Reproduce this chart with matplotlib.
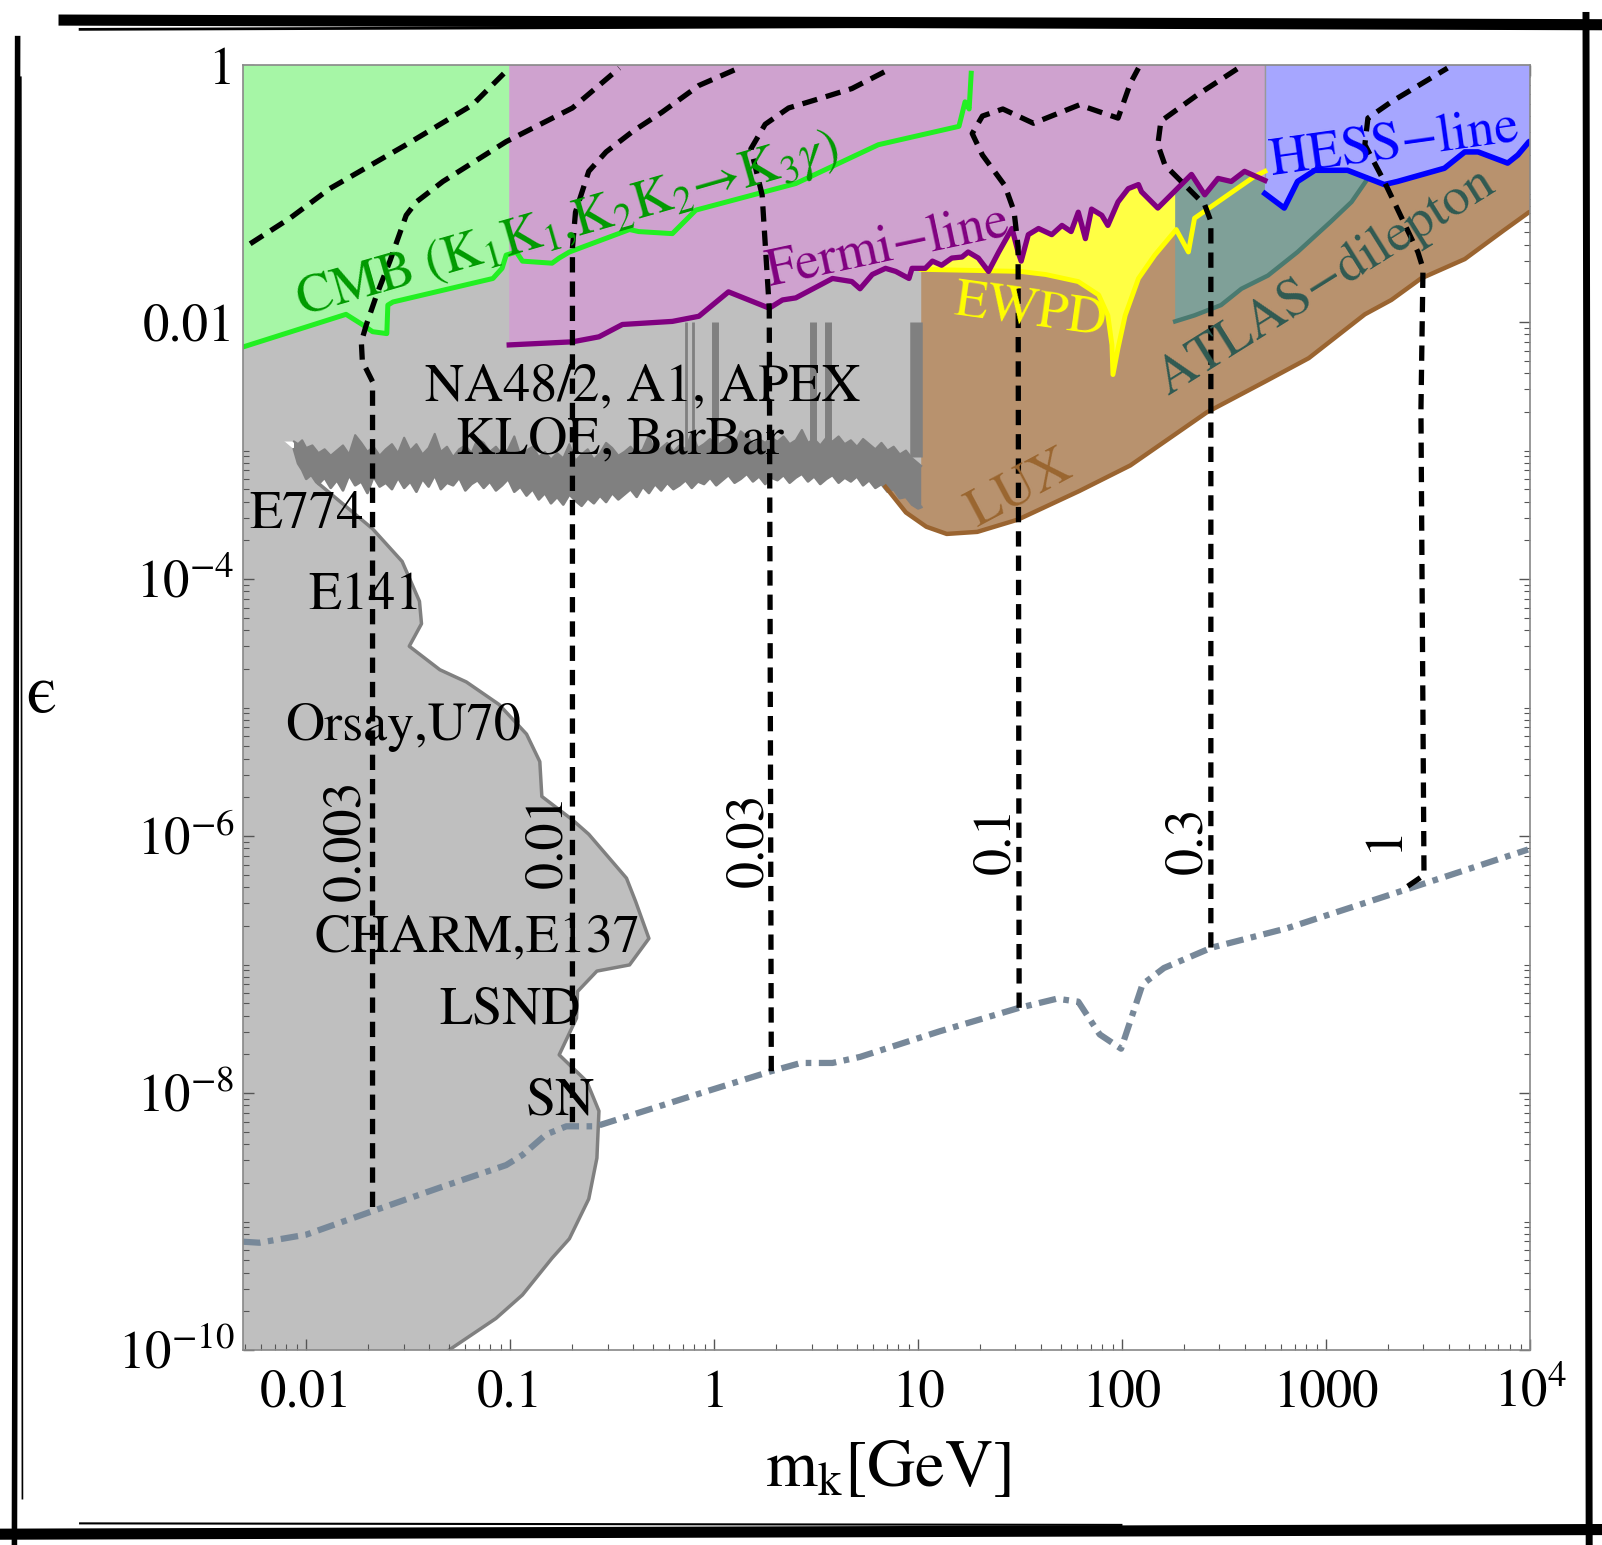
import numpy as np
import matplotlib
matplotlib.use('Agg')
import matplotlib.pyplot as plt
from matplotlib.lines import Line2D
from matplotlib.ticker import LogLocator, NullFormatter

plt.rcParams['font.family'] = ['STIXGeneral', 'DejaVu Serif']
plt.rcParams['mathtext.fontset'] = 'stix'

# all curves as log10(m_k / GeV) and log10(epsilon)

# beam dump region (E774, E141, Orsay, U70, CHARM, E137, LSND, SN)
dump_lm = [-2.05, -1.95, -1.675, -1.53, -1.445, -1.435, -1.495, -1.345, -1.215, -1.055,
           -0.92, -0.855, -0.845, -0.695, -0.615, -0.43, -0.385, -0.32, -0.415, -0.575,
           -0.67, -0.675, -0.76, -0.625, -0.565, -0.575, -0.615, -0.71, -0.795, -0.94,
           -1.07, -1.285, -1.30]
dump_le = [-3.005, -3.243, -3.609, -3.863, -4.173, -4.348, -4.523, -4.706, -4.801, -4.976,
           -5.207, -5.421, -5.692, -5.874, -5.986, -6.328, -6.510, -6.797, -7.003, -7.051,
           -7.210, -7.417, -7.703, -7.909, -8.140, -8.506, -8.824, -9.134, -9.285, -9.571,
           -9.754, -9.984, -10.0]

# ragged lower band of the NA48/2, A1, APEX, KLOE, BaBar region (top and bottom edge)
na48_lm = [-2.06, -2.04, -2.02, -2.00, -1.97, -1.94, -1.91, -1.88,
           -1.85, -1.82, -1.79, -1.76, -1.73, -1.70, -1.67, -1.64, -1.61, -1.58, -1.55, -1.52,
           -1.49, -1.46, -1.43, -1.40, -1.37, -1.34, -1.31, -1.28, -1.25, -1.22, -1.19, -1.16,
           -1.13, -1.10, -1.07, -1.04, -1.01, -0.98, -0.95, -0.92, -0.89, -0.86, -0.83, -0.80,
           -0.77, -0.74, -0.71, -0.68, -0.65, -0.62, -0.59, -0.56, -0.53, -0.50, -0.47, -0.44,
           -0.41, -0.38, -0.35, -0.32, -0.29, -0.26, -0.23, -0.20, -0.17, -0.14, -0.11, -0.08,
           -0.05, -0.02, 0.01, 0.04, 0.07, 0.10, 0.13, 0.16, 0.19, 0.22, 0.25, 0.28,
           0.31, 0.34, 0.37, 0.40, 0.43, 0.46, 0.49, 0.52, 0.55, 0.58, 0.61, 0.64,
           0.67, 0.70, 0.73, 0.76, 0.79, 0.82, 0.85, 0.88, 0.91, 0.94, 0.97, 1.00, 1.015]
na48_top = [-2.93, -2.95, -2.92, -2.98, -2.96, -3.02, -2.99, -3.04,
            -3.00, -2.96, -3.03, -2.88, -2.94, -3.01, -2.97, -3.04, -2.99, -2.95, -3.02, -2.90,
            -3.00, -2.95, -3.03, -2.98, -2.87, -3.01, -2.97, -3.05, -2.99, -2.96, -3.02, -2.91,
            -2.94, -3.01, -2.97, -3.03, -2.99, -2.89, -3.04, -3.00, -2.97, -3.05, -3.01, -3.07,
            -3.02, -3.06, -2.95, -3.08, -3.03, -2.99, -3.07, -3.02, -2.94, -2.98, -3.04, -3.01,
            -2.97, -3.03, -2.99, -2.88, -3.02, -2.98, -2.94, -3.01, -2.96, -2.99, -2.86, -2.98,
            -2.95, -2.91, -2.97, -2.93, -2.90, -2.96, -2.85, -2.89, -2.95, -2.91, -2.94, -2.90,
            -2.93, -2.89, -2.95, -2.92, -2.84, -2.94, -2.91, -2.96, -2.90, -2.93, -2.89, -2.95,
            -2.92, -2.97, -2.91, -2.95, -2.99, -2.94, -3.00, -2.97, -3.03, -3.00, -3.06, -3.10, -3.12]
na48_bot = [-2.99, -3.10, -3.15, -3.22, -3.18, -3.26, -3.21, -3.29,
            -3.23, -3.31, -3.19, -3.27, -3.24, -3.33, -3.20, -3.28, -3.25, -3.30, -3.21, -3.29,
            -3.24, -3.32, -3.22, -3.28, -3.19, -3.30, -3.25, -3.27, -3.21, -3.31, -3.26, -3.23,
            -3.29, -3.24, -3.31, -3.27, -3.22, -3.32, -3.28, -3.35, -3.30, -3.38, -3.33, -3.41,
            -3.36, -3.42, -3.34, -3.39, -3.43, -3.37, -3.41, -3.35, -3.40, -3.33, -3.38, -3.34,
            -3.30, -3.36, -3.28, -3.33, -3.26, -3.31, -3.25, -3.30, -3.27, -3.23, -3.29, -3.24,
            -3.26, -3.21, -3.27, -3.23, -3.19, -3.25, -3.22, -3.18, -3.24, -3.20, -3.26, -3.21,
            -3.23, -3.19, -3.25, -3.21, -3.18, -3.24, -3.20, -3.26, -3.22, -3.19, -3.25, -3.21,
            -3.24, -3.20, -3.27, -3.23, -3.29, -3.26, -3.32, -3.30, -3.37, -3.36, -3.42, -3.45, -3.44]
# resonance spikes (rho/omega, phi, J/psi, psi', Upsilon)
spike_lm = [-0.14, -0.105, 0.005, 0.485, 0.56, 0.99]
spike_lw = [2.0, 2.0, 5.0, 5.0, 5.0, 9.0]

# CMB bound
cmb_lm = [-2.31, -1.805, -1.725, -1.675, -1.605, -1.60, -1.575, -1.085, -1.04, -1.02,
          -0.97, -0.94, -0.795, -0.76, -0.71, -0.415, -0.37, -0.205, -0.09, 0.40,
          0.805, 1.20, 1.23, 1.25, 1.26]
cmb_le = [-2.194, -1.94, -2.02, -2.075, -2.09, -1.868, -1.844, -1.661, -1.582, -1.479,
          -1.455, -1.526, -1.542, -1.502, -1.455, -1.28, -1.296, -1.312, -1.129, -0.922,
          -0.62, -0.477, -0.286, -0.342, -0.064]

# Fermi line search
fermi_lm = [-1.005, -0.695, -0.565, -0.45, -0.205, -0.075, 0.07, 0.27, 0.335, 0.40,
            0.58, 0.675, 0.715, 0.775, 0.84, 0.89, 0.955, 0.97, 1.035, 1.07,
            1.115, 1.165, 1.215, 1.245, 1.295, 1.345, 1.395, 1.46, 1.49, 1.505,
            1.54, 1.59, 1.655, 1.705, 1.75, 1.785, 1.82, 1.85, 1.90, 1.93,
            1.98, 2.03, 2.08, 2.095, 2.175, 2.24, 2.34, 2.405, 2.47, 2.535, 2.60, 2.70]
fermi_le = [-2.178, -2.154, -2.115, -2.019, -1.995, -1.955, -1.765, -1.892, -1.828, -1.812,
            -1.661, -1.685, -1.741, -1.63, -1.582, -1.606, -1.661, -1.582, -1.582, -1.526,
            -1.558, -1.502, -1.494, -1.455, -1.502, -1.606, -1.455, -1.272, -1.455, -1.526,
            -1.32, -1.272, -1.32, -1.248, -1.296, -1.145, -1.351, -1.121, -1.169, -1.248,
            -1.065, -0.962, -0.93, -0.986, -1.113, -1.01, -0.851, -1.01, -0.882, -0.906, -0.827, -0.898]

# electroweak precision data
ewpd_lm = [1.015, 1.50, 1.625, 1.785, 1.885, 1.93, 1.95, 1.955, 1.98, 2.015,
           2.08, 2.16, 2.265, 2.325, 2.355, 2.65, 2.70]
ewpd_le = [-1.59, -1.606, -1.63, -1.685, -1.789, -1.948, -2.178, -2.409, -2.202, -1.948,
           -1.661, -1.479, -1.28, -1.455, -1.192, -0.866, -0.827]

# ATLAS dilepton
atlas_lm = [2.26, 2.355, 2.485, 2.585, 2.715, 2.86, 3.025, 3.125, 3.205]
atlas_le = [-1.995, -1.948, -1.868, -1.741, -1.638, -1.455, -1.216, -1.065, -0.882]

# HESS line search
hess_lm = [2.70, 2.795, 2.86, 2.945, 3.105, 3.285, 3.35, 3.58, 3.68, 3.745, 3.89, 3.94, 3.995]
hess_le = [-1.00, -1.113, -0.906, -0.819, -0.819, -0.930, -0.906, -0.803, -0.676, -0.676,
           -0.763, -0.70, -0.596]

# LUX direct detection
lux_lm = [0.84, 0.94, 1.04, 1.14, 1.29, 1.49, 1.79, 2.04, 2.415, 2.70,
          2.915, 3.19, 3.32, 3.465, 3.68, 3.87, 3.995]
lux_le = [-3.283, -3.482, -3.593, -3.649, -3.633, -3.537, -3.315, -3.116, -2.703, -2.464,
          -2.281, -1.94, -1.828, -1.661, -1.51, -1.288, -1.145]

# grey dot-dashed curve
dd_lm = [-2.31, -2.23, -2.0, -1.675, -1.345, -1.02, -0.94, -0.825, -0.725, -0.58,
         -0.09, 0.28, 0.425, 0.58, 0.715, 1.105, 1.495, 1.68, 1.785, 1.89,
         1.995, 2.05, 2.10, 2.205, 2.44, 2.81, 3.41, 3.99]
dd_le = [-9.157, -9.165, -9.102, -8.919, -8.736, -8.561, -8.482, -8.323, -8.259, -8.259,
         -8.013, -7.830, -7.766, -7.766, -7.719, -7.520, -7.337, -7.266, -7.289, -7.544,
         -7.655, -7.393, -7.154, -7.027, -6.868, -6.717, -6.407, -6.105]

# dashed contours
contours = {
    '': ([-2.275, -2.08, -1.885, -1.51, -1.185, -1.005],
         [-1.391, -1.192, -0.962, -0.62, -0.31, -0.024]),
    '0.003': ([-1.675, -1.675, -1.725, -1.73, -1.705, -1.655, -1.59, -1.51, -1.46, -1.33, -1.02, -0.695, -0.465],
              [-8.887, -2.464, -2.305, -2.154, -2.019, -1.789, -1.526, -1.169, -1.065, -0.906, -0.596, -0.334, -0.024]),
    '0.01': ([-0.695, -0.695, -0.68, -0.615, -0.53, -0.40, -0.255, -0.075, 0.12],
             [-8.227, -1.423, -1.145, -0.827, -0.676, -0.517, -0.366, -0.159, -0.024]),
    '0.03': ([0.28, 0.27, 0.235, 0.18, 0.25, 0.365, 0.515, 0.675, 0.87],
             [-7.83, -1.892, -1.01, -0.652, -0.461, -0.334, -0.262, -0.183, -0.024]),
    '0.1': ([1.495, 1.49, 1.47, 1.425, 1.315, 1.265, 1.315, 1.415, 1.565, 1.79, 1.98, 2.04, 2.08],
            [-7.337, -1.415, -1.137, -0.938, -0.70, -0.533, -0.397, -0.342, -0.453, -0.31, -0.413, -0.143, -0.024]),
    '0.3': ([2.435, 2.435, 2.405, 2.29, 2.21, 2.175, 2.19, 2.37, 2.57],
            [-6.868, -1.216, -1.089, -0.906, -0.779, -0.62, -0.437, -0.231, -0.024]),
    '1': ([3.40, 3.48, 3.465, 3.475, 3.45, 3.35, 3.285, 3.19, 3.205, 3.32, 3.595],
          [-6.391, -6.304, -2.687, -1.582, -1.455, -1.121, -0.906, -0.62, -0.413, -0.286, -0.024]),
}
contour_label_pos = {'0.003': (-1.80, -6.03), '0.01': (-0.81, -6.04), '0.03': (0.175, -6.03),
                     '0.1': (1.385, -6.03), '0.3': (2.325, -6.03), '1': (3.285, -6.01)}

# region labels: text, log10 m, log10 eps, rotation, colour
region_labels = [
    ('CMB (K$_1$K$_1$,K$_2$K$_2$\u2192K$_3\\gamma$)', -0.72, -1.25, 16, '#009a00'),
    ('Fermi\u2212line', 0.85, -1.42, 12, '#800080'),
    ('HESS\u2212line', 3.335, -0.62, 8, '#0000ff'),
    ('EWPD', 1.55, -1.93, -8, '#ffff00'),
    ('ATLAS\u2212dilepton', 3.0, -1.69, 32, '#2f5a52'),
    ('LUX', 1.5, -3.31, 28, '#9a6630'),
    ('NA48/2, A1, APEX', -0.35, -2.51, 0, 'black'),
    ('KLOE, BarBar', -0.46, -2.925, 0, 'black'),
    ('E774', -2.0, -3.506, 0, 'black'),
    ('E141', -1.71, -4.134, 0, 'black'),
    ('Orsay,U70', -1.525, -5.151, 0, 'black'),
    ('CHARM,E137', -1.16, -6.797, 0, 'black'),
    ('LSND', -1.0, -7.361, 0, 'black'),
    ('SN', -0.755, -8.068, 0, 'black'),
]


def lin(v):
    return 10.0 ** np.asarray(v, dtype=float)


TOP = 0.05
RIGHT = 4.05

fig = plt.figure(figsize=(16.02, 15.45), dpi=100)
ax = fig.add_axes([0.1517, 0.1262, 0.8034, 0.8317])

# beam dump
bx = [-2.35] + dump_lm + [-2.35]
by = [-2.6] + dump_le[:-1] + [-10.1, -10.1]
ax.fill(lin(bx), lin(by), color='#bfbfbf', lw=0, zorder=1)
ax.plot(lin(dump_lm), lin(dump_le), color='#808080', lw=2.5, zorder=1.5)

# LUX
ax.fill(lin(lux_lm + [RIGHT, RIGHT, lux_lm[0]]), lin(lux_le + [lux_le[-1], TOP, TOP]),
        color='#b8926e', lw=0, zorder=2)

# dark photon searches (NA48/2, ...)
gx = [-2.35, -2.35] + na48_lm + [na48_lm[-1]]
gy = [TOP, na48_top[0]] + na48_top + [TOP]
ax.fill(lin(gx), lin(gy), color='#bfbfbf', lw=0, zorder=3)
ax.fill(lin(na48_lm + na48_lm[::-1]), lin(na48_top + na48_bot[::-1]), color='#808080',
        lw=0, zorder=3.4)
ax.plot(lin(na48_lm), lin(na48_top), color='#808080', lw=1.5, zorder=3.5)
ax.plot(lin(na48_lm), lin(na48_bot), color='#808080', lw=2, zorder=3.5)
for m, w in zip(spike_lm, spike_lw):
    ax.plot([10 ** m, 10 ** m], [10 ** -3.05, 10 ** -2.0], color='#808080', lw=w,
            solid_capstyle='butt', zorder=3.5)

# CMB
ax.fill(lin([-2.35] + cmb_lm + [cmb_lm[-1], -2.35]), lin([cmb_le[0]] + cmb_le + [TOP, TOP]),
        color='#a6f6a6', lw=0, zorder=4)
# EWPD
ax.fill(lin(ewpd_lm + [ewpd_lm[-1], ewpd_lm[0]]), lin(ewpd_le + [TOP, TOP]),
        color='#ffff44', lw=0, zorder=5)
# ATLAS
ax.fill(lin(atlas_lm + [atlas_lm[-1], atlas_lm[0]]), lin(atlas_le + [TOP, TOP]),
        color='#7fa098', lw=0, zorder=6)
# Fermi
ax.fill(lin(fermi_lm + [fermi_lm[-1], fermi_lm[0]]), lin(fermi_le + [TOP, TOP]),
        color='#cfa2cf', lw=0, zorder=7)
# HESS
ax.fill(lin(hess_lm + [RIGHT, RIGHT, hess_lm[0]]), lin(hess_le + [hess_le[-1], TOP, TOP]),
        color='#a6a6ff', lw=0, zorder=8)
# thin seam between the Fermi and HESS patches
ax.plot([10 ** hess_lm[0]] * 2, [10 ** fermi_le[-1], 1.0], color='#999999', lw=1, zorder=8.5)

ax.plot(lin(lux_lm + [RIGHT]), lin(lux_le + [lux_le[-1] + 0.02]), color='#9a6430', lw=3.2, zorder=9)
ax.plot(lin(atlas_lm), lin(atlas_le), color='#4a7a70', lw=3.2, zorder=9)
ax.plot(lin(ewpd_lm), lin(ewpd_le), color='#ffff00', lw=3.5, zorder=9)
ax.plot(lin(fermi_lm), lin(fermi_le), color='#800080', lw=3.8, zorder=9.2)
ax.plot(lin(hess_lm + [RIGHT]), lin(hess_le + [hess_le[-1] + 0.03]), color='#0000ff', lw=4, zorder=9.2)
ax.plot(lin(cmb_lm), lin(cmb_le), color='#22f022', lw=3.6, zorder=9.4)

# grey dot-dashed curve
ax.plot(lin(dd_lm), lin(dd_le), color='#778899', lw=4.5, dashes=(2.8, 1.2, 0.9, 1.2), zorder=10)

# dashed contours
for name, (cm, ce) in contours.items():
    ax.plot(lin(cm), lin(ce), color='black', lw=3.8, dashes=(2.9, 1.7), zorder=10.5)
    if name:
        lx, ly = contour_label_pos[name]
        ax.text(10 ** lx, 10 ** ly, name, rotation=90, ha='center', va='center',
                fontsize=39, zorder=11)

for txt, lx, ly, rot, col in region_labels:
    ax.text(10 ** lx, 10 ** ly, txt, rotation=rot, rotation_mode='anchor', ha='center',
            va='center', fontsize=39, color=col, zorder=11)

ax.set_xscale('log')
ax.set_yscale('log')
ax.set_xlim(10 ** -2.31, 1e4)
ax.set_ylim(1e-10, 1)

ax.set_xticks([0.01, 0.1, 1, 10, 100, 1000, 1e4],
              ['0.01', '0.1', '1', '10', '100', '1000', r'$10^4$'])
ax.set_yticks([1, 1e-2, 1e-4, 1e-6, 1e-8, 1e-10],
              ['1', '0.01', r'$10^{-4}$', r'$10^{-6}$', r'$10^{-8}$', r'$10^{-10}$'])
ax.xaxis.set_minor_locator(LogLocator(base=10, subs=np.arange(2, 10), numticks=100))
ax.yaxis.set_minor_locator(LogLocator(base=10, subs=np.arange(1, 10), numticks=100))
ax.xaxis.set_minor_formatter(NullFormatter())
ax.yaxis.set_minor_formatter(NullFormatter())
ax.tick_params(which='both', direction='in', top=True, right=True, colors='#555555',
               labelcolor='black', labelsize=38)
ax.tick_params(which='major', length=8, width=1)
ax.tick_params(which='minor', length=4.5, width=0.8)
ax.tick_params(axis='x', pad=14)
ax.tick_params(axis='y', pad=6)
for s in ax.spines.values():
    s.set_color('#888888')
    s.set_linewidth(1.2)
    s.set_zorder(12)

fig.text(0.554, 0.048, r'm$_\mathrm{k}$[GeV]', ha='center', va='center', fontsize=48)
fig.text(0.026, 0.55, '\u03f5', ha='center', va='center', fontsize=50)

# hand drawn frame around the figure
frame = [([0.04, 0.999], [0.987, 0.984], 8), ([0.05, 0.62], [0.981, 0.983], 2),
         ([0.009, 0.011], [0.0, 0.975], 4), ([0.014, 0.013], [0.03, 0.95], 1.2),
         ([0.992, 0.990], [0.0, 0.99], 5), ([0.0, 1.0], [0.007, 0.010], 8),
         ([0.05, 0.7], [0.014, 0.013], 1.5)]
for xs, ys, w in frame:
    fig.add_artist(Line2D(xs, ys, color='black', lw=w, transform=fig.transFigure))

fig.savefig('out.png', dpi=100)
